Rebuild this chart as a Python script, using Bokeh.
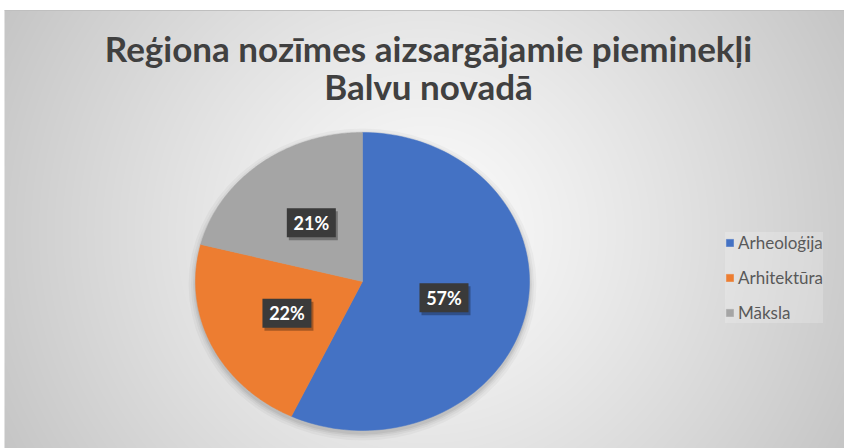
import numpy as np
from bokeh.plotting import figure
from bokeh.models import Range1d, Legend, LegendItem, Label, ColumnDataSource
from bokeh.core.properties import value
from bokeh.embed import file_html
from bokeh.resources import INLINE

# ---- data ----
categories = ["Arheoloģija", "Arhitektūra", "Māksla"]
percents = [57, 22, 21]
colors = ["#4472C4", "#ED7D31", "#A5A5A5"]
title_lines = ["Reģiona nozīmes aizsargājamie pieminekļi", "Balvu novadā"]

W, H = 844, 448
p = figure(width=W, height=H, output_backend="svg", toolbar_location=None,
           x_range=Range1d(0, W), y_range=Range1d(0, H), min_border=0)
p.axis.visible = False
p.grid.visible = False
p.outline_line_color = None
p.border_fill_color = "white"
p.background_fill_color = "white"

# ---- chart area background: radial gradient ----
X0, Y1 = 4, 438          # left edge and top edge of chart area
CW, CH = W - X0, Y1
yy, xx = np.mgrid[0:CH, 0:CW]
xx = xx + X0
gcx, gcy = 425.0, 216.0
d = np.sqrt(((xx - gcx) / 480.0) ** 2 + ((yy - gcy) / 470.0) ** 2)
g = (252 - (252 - 197) * np.clip(d, 0, 1) ** 1.15).astype(np.uint8)
img = np.empty((CH, CW), dtype=np.uint32)
view = img.view(dtype=np.uint8).reshape((CH, CW, 4))
view[..., 0] = g
view[..., 1] = g
view[..., 2] = g
view[..., 3] = 255
p.image_rgba(image=[img], x=X0, y=0, dw=CW, dh=CH)
p.line(x=[X0, W], y=[Y1, Y1], line_color="#bfbfbf", line_width=1)

# ---- pie geometry ----
cx, cy = 362.0, 167.0
rx, ry = 167.0, 149.0

# soft shadow
for k, a in [(14, 0.03), (9, 0.04), (5, 0.05), (2, 0.06)]:
    p.ellipse(x=cx, y=cy - 3, width=2 * rx + k, height=2 * ry + k,
              fill_color="black", fill_alpha=a, line_color=None)

total = float(sum(percents))
fr = np.array(percents) / total
ends = np.cumsum(fr) * 2 * np.pi
starts = ends - fr * 2 * np.pi

renderers = []
for s, e, c in zip(starts, ends, colors):
    t = np.linspace(s, e, 120)
    xs = np.concatenate([[cx], cx + rx * np.sin(t)])
    ys = np.concatenate([[cy], cy + ry * np.cos(t)])
    r = p.patch(xs, ys, fill_color=c, line_color=c, line_width=0.5)
    renderers.append(r)

# ---- data labels ----
mid = (starts + ends) / 2
lx = cx + 0.5 * rx * np.sin(mid)
ly = cy + 0.5 * ry * np.cos(mid)
lab = ColumnDataSource(dict(x=lx, y=ly, sx=lx + 2, sy=ly - 3,
                            text=[f"{v}%" for v in percents]))
p.rect(x="sx", y="sy", width=49, height=29, width_units="screen", height_units="screen",
       source=lab, fill_color="black", fill_alpha=0.3, line_color=None)
p.rect(x="x", y="y", width=49, height=29, width_units="screen", height_units="screen",
       source=lab, fill_color="#3a3a3a", line_color=None)
p.text(x="x", y="y", text="text", source=lab, text_color="white",
       text_font=value("Lato"), text_font_style="bold", text_font_size="18px",
       text_align="center", text_baseline="middle")

# ---- title ----
p.add_layout(Label(x=428, y=H - 47, text=title_lines[0], text_align="center",
                   text_baseline="alphabetic", text_font="Lato", text_font_style="bold",
                   text_font_size="35px", text_color="#404040"))
p.add_layout(Label(x=428, y=H - 85, text=title_lines[1], text_align="center",
                   text_baseline="alphabetic", text_font="Lato", text_font_style="bold",
                   text_font_size="35px", text_color="#404040"))

# ---- legend ----
legend = Legend(items=[LegendItem(label=c, renderers=[r]) for c, r in zip(categories, renderers)],
                location=(725, 125), orientation="vertical",
                glyph_width=9, glyph_height=9, label_height=14, spacing=14,
                label_standoff=4, padding=7, margin=0,
                label_text_font="Lato", label_text_font_size="17px",
                label_text_color="#595959",
                background_fill_color="white", background_fill_alpha=0.2,
                border_line_color=None)
p.add_layout(legend, "center")

open("out.html", "w").write(file_html(p, INLINE))
